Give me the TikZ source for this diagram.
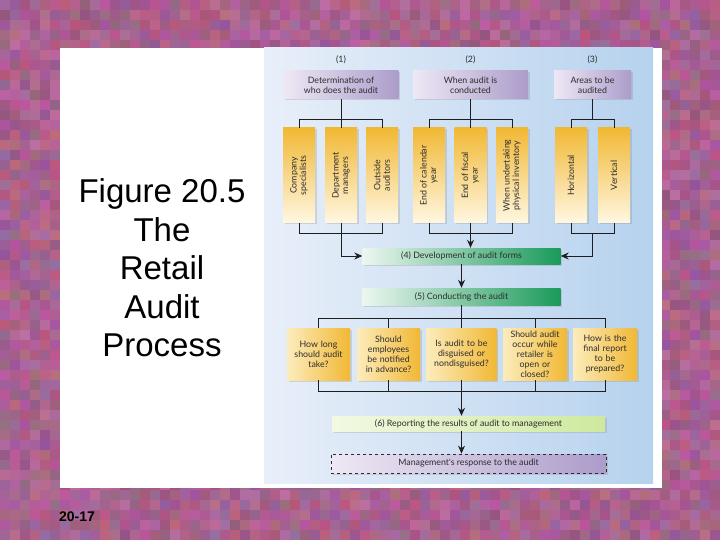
\documentclass[tikz,border=0pt]{standalone}
\usepackage{fontspec}
\setmainfont{Liberation Sans}
\newfontfamily\diag{Lato}
\usetikzlibrary{arrows.meta,shadows}
\definecolor{bluel}{RGB}{232,239,249}
\definecolor{blued}{RGB}{182,210,238}
\definecolor{purL}{RGB}{238,232,245}
\definecolor{purD}{RGB}{172,156,202}
\definecolor{yelD}{RGB}{241,184,52}
\definecolor{yelL}{RGB}{255,247,226}
\definecolor{yelP}{RGB}{252,236,188}
\definecolor{grnL}{RGB}{236,247,240}
\definecolor{grnD}{RGB}{26,154,90}
\definecolor{limeL}{RGB}{242,249,226}
\definecolor{limeD}{RGB}{206,233,158}
\definecolor{lineC}{RGB}{30,30,30}
\definecolor{txtC}{RGB}{45,45,45}
\begin{document}
\begin{tikzpicture}[x=1pt,y=-1pt,
  lbl/.style={font=\diag\fontsize{8.8}{10}\selectfont, text=txtC, inner sep=0pt, align=center},
  shad/.style={drop shadow={opacity=0.25,shadow xshift=1.5pt,shadow yshift=-1.5pt,fill=gray}},
  pbox/.style={lbl, shad, left color=purL, right color=purD, minimum height=28},
  vbox/.style={shad, top color=yelD, bottom color=yelL, minimum width=32, minimum height=95, inner sep=0pt},
  vtxt/.style={lbl, rotate=90, font=\diag\fontsize{8.8}{9.5}\selectfont},
  hbox/.style={lbl, shad, left color=yelP, right color=yelD, minimum height=52},
  gbox/.style={lbl, shad, left color=grnL, right color=grnD, minimum width=198, minimum height=16},
  conn/.style={draw=lineC, line width=1pt},
  arr/.style={conn, -{Stealth[length=8pt,width=7pt]}},
  fig/.style={font=\fontsize{33}{38.5}\selectfont, align=center, inner sep=0pt}
]
\useasboundingbox (0,0) rectangle (720,540);
% mosaic background
\pgfmathsetseed{17}
\foreach \i in {0,...,71}{\foreach \j in {0,...,54}{
  \pgfmathsetmacro\t{rnd}
  \pgfmathtruncatemacro\R{148+42*rnd}
  \pgfmathtruncatemacro\G{84+28*rnd}
  \pgfmathtruncatemacro\B{122+42*rnd}
  \definecolor{mc}{RGB}{\R,\G,\B}
  \fill[mc] (\i*10,\j*10) rectangle ++(10,10);
}}
% panels
\fill[white] (60,48) rectangle (662,488);
\shade[left color=bluel, right color=blued] (264,48) rectangle (653,483);
% title
\node[fig] (title) at (162,268) {Figure 20.5\\The\\Retail\\Audit\\Process};
\node[font=\bfseries\fontsize{14}{16}\selectfont, inner sep=0pt] (pg) at (77,517) {20-17};
% helper coordinates
\coordinate (ytop) at (0,120);
\coordinate (ybot) at (0,233);
\coordinate (yrt) at (0,318);
\coordinate (yrb) at (0,391);
% column labels
\node[lbl] (n1) at (341,60) {(1)};
\node[lbl] (n2) at (470.5,60) {(2)};
\node[lbl] (n3) at (592.5,60) {(3)};
% top boxes
\node[pbox, minimum width=115] (t1) at (341,85) {Determination of\\who does the audit};
\node[pbox, minimum width=115] (t2) at (470.5,85) {When audit is\\conducted};
\node[pbox, minimum width=77] (t3) at (592.5,85) {Areas to be\\audited};
% vertical yellow boxes
\node[vbox] (c11) at (299,175.5) {};
\node[vtxt] (c11t) at (c11) {Company\\specialists};
\node[vbox] (c12) at (341,175.5) {};
\node[vtxt] (c12t) at (c12) {Department\\managers};
\node[vbox] (c13) at (382,175.5) {};
\node[vtxt] (c13t) at (c13) {Outside\\auditors};
\node[vbox] (c21) at (429,175.5) {};
\node[vtxt] (c21t) at (c21) {End of calendar\\year};
\node[vbox] (c22) at (470.5,175.5) {};
\node[vtxt] (c22t) at (c22) {End of fiscal\\year};
\node[vbox] (c23) at (512,175.5) {};
\node[vtxt] (c23t) at (c23) {When undertaking\\physical inventory};
\node[vbox] (c31) at (571,175.5) {};
\node[vtxt] (c31t) at (c31) {Horizontal};
\node[vbox] (c32) at (614,175.5) {};
\node[vtxt] (c32t) at (c32) {Vertical};
% green boxes
\node[gbox] (f4) at (461.5,256) {(4) Development of audit forms};
\node[gbox, minimum height=17] (f5) at (461.5,296.5) {(5) Conducting the audit};
% row 2 boxes
\node[hbox, minimum width=63, text width=61] (r1) at (318.5,354) {How long\\should audit\\take?};
\node[hbox, minimum width=63, text width=61] (r2) at (388.5,354) {Should\\employees\\be notified\\in advance?};
\node[hbox, minimum width=70, text width=68] (r3) at (461.5,354) {Is audit to be\\disguised or\\nondisguised?};
\node[hbox, minimum width=64, text width=62] (r4) at (535,354) {Should audit\\occur while\\retailer is\\open or\\closed?};
\node[hbox, minimum width=64, text width=62] (r5) at (605,354) {How is the\\final report\\to be\\prepared?};
% bottom boxes
\node[lbl, shad, left color=limeL, right color=limeD, minimum width=273, minimum height=15] (f6) at (468.5,423.5) {(6) Reporting the results of audit to management};
\node[lbl, shad, left color=purL, right color=purD, draw=txtC, dashed, line width=0.8pt, minimum width=275, minimum height=19] (f7) at (468.5,463.5) {Management's response to the audit};
% connectors top trees
\draw[conn] (t1.south) -- (c12.north);
\draw[conn] (c11.north) |- (c13.north |- ytop) -- (c13.north);
\draw[conn] (t2.south) -- (c22.north);
\draw[conn] (c21.north) |- (c23.north |- ytop) -- (c23.north);
\draw[conn] (t3.south) -- (t3.south |- ytop);
\draw[conn] (c31.north) |- (c32.north |- ytop) -- (c32.north);
% connectors bottom of columns
\draw[conn] (c11.south) |- (c13.south |- ybot) -- (c13.south);
\draw[arr] (c12.south) |- (f4.west);
\draw[conn] (c21.south) |- (c23.south |- ybot) -- (c23.south);
\draw[arr] (c22.south) -- (c22.south |- f4.north);
\draw[conn] (c31.south) |- (c32.south |- ybot) -- (c32.south);
\coordinate (j3) at (592.5,233);
\draw[arr] (j3) |- (f4.east);
\draw[arr] (f4.south) -- (f5.north);
% row 2 connectors
\draw[conn] (f5.south) -- (r3.north);
\draw[conn] (r1.north) |- (r5.north |- yrt) -- (r5.north);
\draw[conn] (r2.north) -- (r2.north |- yrt);
\draw[conn] (r4.north) -- (r4.north |- yrt);
\draw[conn] (r1.south) |- (r5.south |- yrb) -- (r5.south);
\draw[conn] (r2.south) -- (r2.south |- yrb);
\draw[conn] (r4.south) -- (r4.south |- yrb);
\draw[arr] (r3.south) -- (r3.south |- f6.north);
\draw[arr] (r3.south |- f6.south) -- (r3.south |- f7.north);
\end{tikzpicture}
\end{document}
